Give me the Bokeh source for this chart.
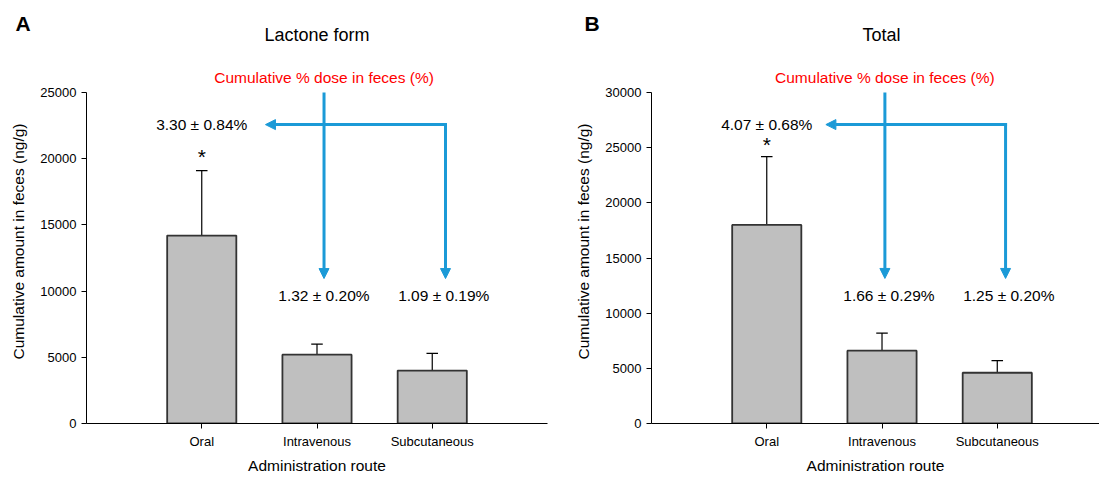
from bokeh.plotting import figure
from bokeh.layouts import row
from bokeh.models import (FixedTicker, NumeralTickFormatter, Range1d, Arrow,
                          NormalHead, Label, ColumnDataSource, Title)
from bokeh.core.properties import value
from bokeh.embed import file_html
from bokeh.resources import INLINE

# ---------------- data ----------------
categories = ["Oral", "Intravenous", "Subcutaneous"]
cat_x = [1, 2, 3]

lactone_mean = [14200, 5200, 4000]
lactone_sd = [4900, 800, 1300]
total_mean = [18000, 6600, 4600]
total_sd = [6200, 1600, 1100]

lactone_pct = ["3.30 ± 0.84%", "1.32 ± 0.20%", "1.09 ± 0.19%"]
total_pct = ["4.07 ± 0.68%", "1.66 ± 0.29%", "1.25 ± 0.20%"]

lactone_ticks = [0, 5000, 10000, 15000, 20000, 25000]
total_ticks = [0, 5000, 10000, 15000, 20000, 25000, 30000]

FONT = "Liberation Sans"
BLUE = "#1b9ad7"


def make_panel(letter, title, means, sds, pct, yticks, yend, xend,
               width, bl, br, ann, star_off, title_align, title_off,
               letter_off):
    p = figure(width=width, height=477, output_backend="svg",
               toolbar_location=None, x_range=Range1d(0, xend),
               y_range=Range1d(0, yend), min_border_left=bl,
               min_border_right=br, min_border_top=59, min_border_bottom=54)
    p.outline_line_color = None
    p.xgrid.visible = False
    p.ygrid.visible = False
    p.background_fill_color = "white"
    p.border_fill_color = "white"

    # panel letter (outer title) and panel title (inner)
    p.title.text = letter
    p.title.align = "left"
    p.title.offset = letter_off
    p.title.standoff = -52
    p.title.text_font = FONT
    p.title.text_font_size = "21px"
    p.title.text_font_style = "bold"
    p.title.text_color = "black"
    p.add_layout(Title(text=title, align=title_align, offset=title_off,
                       text_font=FONT, text_font_size="18px",
                       text_font_style="normal", text_color="black",
                       standoff=29), "above")

    src = ColumnDataSource(dict(x=cat_x, top=means,
                                etop=[m + s for m, s in zip(means, sds)],
                                cl=[x - 0.05 for x in cat_x],
                                cr=[x + 0.05 for x in cat_x]))
    # error bars (upper)
    p.segment(x0="x", y0="top", x1="x", y1="etop", source=src,
              line_color="black", line_width=1.2)
    p.segment(x0="cl", y0="etop", x1="cr", y1="etop", source=src,
              line_color="black", line_width=1.2)
    p.vbar(x="x", top="top", width=0.6, source=src, fill_color="#bfbfbf",
           line_color="#333333", line_width=1.8)

    # significance star on oral
    p.text(x=[cat_x[0]], y=[means[0] + sds[0]], text=["*"],
           text_font=value(FONT), text_font_size="21px",
           text_align="center", text_baseline="alphabetic",
           y_offset=star_off, text_color="black")

    # axes
    xa = p.xaxis[0]
    xa.ticker = FixedTicker(ticks=cat_x, minor_ticks=[])
    xa.major_label_overrides = {x: c for x, c in zip(cat_x, categories)}
    xa.axis_label = "Administration route"
    ya = p.yaxis[0]
    ya.ticker = FixedTicker(ticks=yticks, minor_ticks=[])
    ya.formatter = NumeralTickFormatter(format="0")
    ya.bounds = (0, yticks[-1])
    ya.axis_label = "Cumulative amount in feces (ng/g)"
    for ax in (xa, ya):
        ax.axis_line_color = "black"
        ax.axis_line_width = 1
        ax.major_tick_line_color = "black"
        ax.major_tick_in = 0
        ax.major_tick_out = 5
        ax.minor_tick_line_color = None
        ax.major_label_text_font = FONT
        ax.major_label_text_font_size = "13px"
        ax.major_label_text_color = "black"
        ax.axis_label_text_font = FONT
        ax.axis_label_text_font_size = "15.5px"
        ax.axis_label_text_font_style = "normal"
        ax.axis_label_text_color = "black"
        ax.major_label_standoff = 5
    xa.axis_label_standoff = 5
    ya.axis_label_standoff = 10

    # red header
    p.add_layout(Label(x=ann["xv"], y=ann["red_y"],
                       text="Cumulative % dose in feces (%)",
                       text_align="center", text_baseline="middle",
                       text_font=FONT, text_font_size="15.5px",
                       text_color="#ff0000"))
    # arrows
    def head():
        return NormalHead(size=10, fill_color=BLUE, line_color=BLUE,
                          line_width=1)
    p.add_layout(Arrow(x_start=ann["xv"], y_start=yticks[-1],
                       x_end=ann["xv"], y_end=ann["tip_y"], end=head(),
                       line_color=BLUE, line_width=3))
    p.add_layout(Arrow(x_start=ann["xr"], y_start=ann["yh"],
                       x_end=ann["xtip"], y_end=ann["yh"], end=head(),
                       line_color=BLUE, line_width=3, line_cap="square"))
    p.add_layout(Arrow(x_start=ann["xr"], y_start=ann["yh"],
                       x_end=ann["xr"], y_end=ann["tip_y"], end=head(),
                       line_color=BLUE, line_width=3, line_cap="square"))
    # percent labels
    p.text(x=ann["pct_x"], y=[ann["yh"], ann["pct_y"], ann["pct_y"]],
           text=pct, text_font=value(FONT), text_font_size="15.5px",
           text_align="center", text_baseline="middle", text_color="black")
    return p


annA = dict(red_y=26130, xv=2.061, xr=3.115, xtip=1.553, yh=22580,
            tip_y=10950, pct_x=[1.0, 2.06, 3.10], pct_y=9670)
annB = dict(red_y=31360, xv=2.025, xr=3.072, xtip=1.513, yh=27100,
            tip_y=13150, pct_x=[1.0, 2.06, 3.10], pct_y=11600)

pA = make_panel("A", "Lactone form", lactone_mean, lactone_sd, lactone_pct,
                lactone_ticks, 27500, 4.0, 560, 86, 13, annA, -14,
                "center", 0, -71)
pB = make_panel("B", "Total", total_mean, total_sd, total_pct,
                total_ticks, 33000, 3.887, 539, 91, 0, annB, -12,
                "left", 211, -67)

layout = row(pA, pB)
open("out.html", "w").write(file_html(layout, INLINE))
